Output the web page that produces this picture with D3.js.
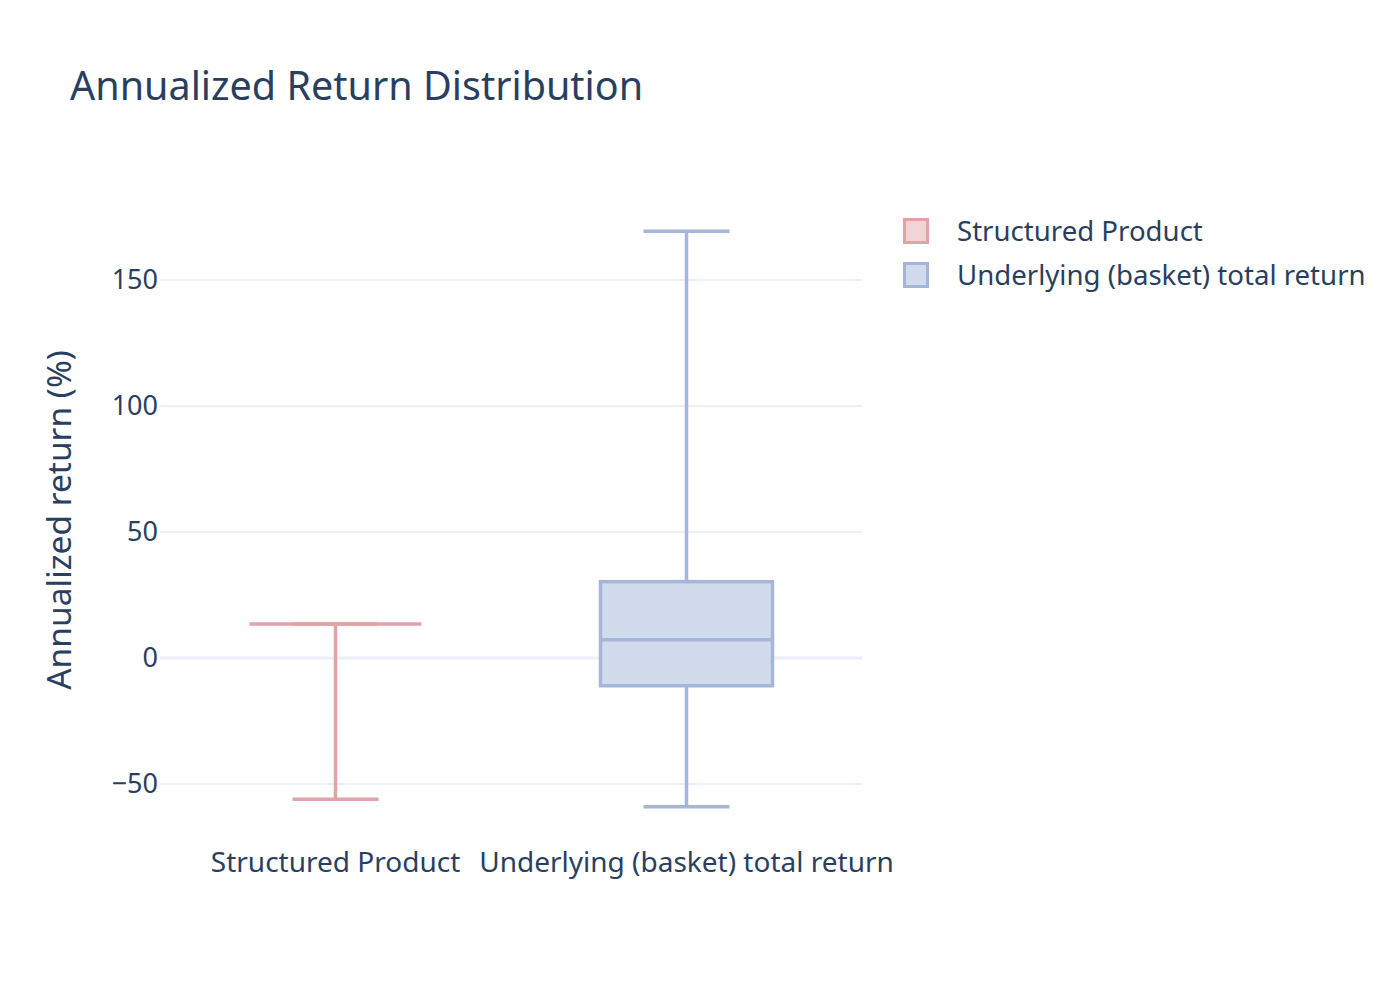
<!DOCTYPE html>
<html>
<head>
<meta charset="utf-8">
<script src="https://cdn.jsdelivr.net/npm/d3@7"></script>
<style>
  body { margin: 0; background: #fff; }
  text { font-family: "Noto Sans", sans-serif; fill: #2a3f5f; }
</style>
</head>
<body>
<div id="chart"></div>
<script>
// categories and box statistics (annualized return, %)
let categories = ['Structured Product', 'Underlying (basket) total return']
let lowerFence = [-56, -59]
let q1 = [13.5, -11]
let median = [13.5, 7.3]
let q3 = [13.5, 30.3]
let upperFence = [13.5, 169.3]
let yTicks = [-50, 0, 50, 100, 150]
let strokeColors = ['#e0a3a7', '#a4b6d9']
let fillColors = ['#f0d4d6', '#d2dbeb']

let svgWidth = 1400
let svgHeight = 1000
let padding = { 'left': 160, 'right': 538, 'top': 190, 'bottom': 160 }
let fontFam = '"Noto Sans", sans-serif'
let lw = 3.5

let svg = d3.select('#chart').append('svg')
    .attr('width', svgWidth)
    .attr('height', svgHeight)

let x = d3.scaleBand()
    .domain(categories)
    .range([padding.left, svgWidth - padding.right])

let y = d3.scaleLinear()
    .domain([-72.2, 185.7])
    .range([svgHeight - padding.bottom, padding.top])

// grid lines
svg.append('g')
    .selectAll('line')
    .data(yTicks)
    .enter()
    .append('line')
    .attr('x1', padding.left)
    .attr('x2', svgWidth - padding.right)
    .attr('y1', d => y(d))
    .attr('y2', d => y(d))
    .attr('stroke', '#ebf0f8')
    .attr('stroke-width', d => d == 0 ? 3 : 2)

// y axis ticks
let axis_y = d3.axisLeft()
    .scale(y)
    .tickValues(yTicks)
    .tickSize(0)
    .tickPadding(2)
    .tickFormat(d => d < 0 ? '\u2212' + Math.abs(d) : d)
let gy = svg.append('g')
    .attr('transform', `translate(${padding.left}, 0)`)
    .call(axis_y)
gy.select('.domain').remove()
gy.selectAll('text')
    .attr('font-size', 27)
    .style('font-family', fontFam)
    .attr('fill', '#2a3f5f')

// x axis labels
let axis_x = d3.axisBottom()
    .scale(x)
    .tickSize(0)
    .tickPadding(12)
let gx = svg.append('g')
    .attr('transform', `translate(0, ${svgHeight - padding.bottom})`)
    .call(axis_x)
gx.select('.domain').remove()
gx.selectAll('text')
    .attr('font-size', 28)
    .style('font-family', fontFam)
    .attr('fill', '#2a3f5f')

// boxes
let boxW = x.bandwidth() * 0.49
let boxes = svg.append('g')
    .selectAll('g')
    .data(categories)
    .enter()
    .append('g')

boxes.append('line')
    .attr('x1', d => x(d) + x.bandwidth() / 2)
    .attr('x2', d => x(d) + x.bandwidth() / 2)
    .attr('y1', (d, i) => y(upperFence[i]))
    .attr('y2', (d, i) => y(q3[i]))
    .attr('stroke', (d, i) => strokeColors[i])
    .attr('stroke-width', lw)
boxes.append('line')
    .attr('x1', d => x(d) + x.bandwidth() / 2)
    .attr('x2', d => x(d) + x.bandwidth() / 2)
    .attr('y1', (d, i) => y(q1[i]))
    .attr('y2', (d, i) => y(lowerFence[i]))
    .attr('stroke', (d, i) => strokeColors[i])
    .attr('stroke-width', lw)

boxes.append('rect')
    .attr('x', d => x(d) + (x.bandwidth() - boxW) / 2)
    .attr('y', (d, i) => y(q3[i]))
    .attr('width', boxW)
    .attr('height', (d, i) => y(q1[i]) - y(q3[i]))
    .attr('fill', (d, i) => fillColors[i])
    .attr('stroke', (d, i) => strokeColors[i])
    .attr('stroke-width', lw)

boxes.append('line')
    .attr('x1', d => x(d) + (x.bandwidth() - boxW) / 2)
    .attr('x2', d => x(d) + (x.bandwidth() + boxW) / 2)
    .attr('y1', (d, i) => y(median[i]))
    .attr('y2', (d, i) => y(median[i]))
    .attr('stroke', (d, i) => strokeColors[i])
    .attr('stroke-width', lw)

// whisker caps
;[upperFence, lowerFence].forEach(arr => {
    boxes.append('line')
        .attr('x1', d => x(d) + (x.bandwidth() - boxW / 2) / 2)
        .attr('x2', d => x(d) + (x.bandwidth() + boxW / 2) / 2)
        .attr('y1', (d, i) => y(arr[i]))
        .attr('y2', (d, i) => y(arr[i]))
        .attr('stroke', (d, i) => strokeColors[i])
        .attr('stroke-width', lw)
})

// title
svg.append('text')
    .attr('x', 70)
    .attr('y', 100)
    .attr('font-size', 39.5)
    .text('Annualized Return Distribution')

// y axis title
svg.append('text')
    .attr('transform', `translate(71, 520) rotate(-90)`)
    .attr('text-anchor', 'middle')
    .attr('font-size', 33.5)
    .text('Annualized return (%)')

// legend
let legend = svg.append('g')
    .attr('transform', 'translate(903, 218)')
    .selectAll('g')
    .data(categories)
    .enter()
    .append('g')
    .attr('transform', (d, i) => `translate(0, ${i * 44})`)
legend.append('rect')
    .attr('x', 1.5)
    .attr('y', 1.5)
    .attr('width', 23)
    .attr('height', 23)
    .attr('fill', (d, i) => fillColors[i])
    .attr('stroke', (d, i) => strokeColors[i])
    .attr('stroke-width', 3)
legend.append('text')
    .attr('x', 54)
    .attr('y', 13)
    .attr('dy', '0.35em')
    .attr('font-size', 27.6)
    .text(d => d)
</script>
</body>
</html>
